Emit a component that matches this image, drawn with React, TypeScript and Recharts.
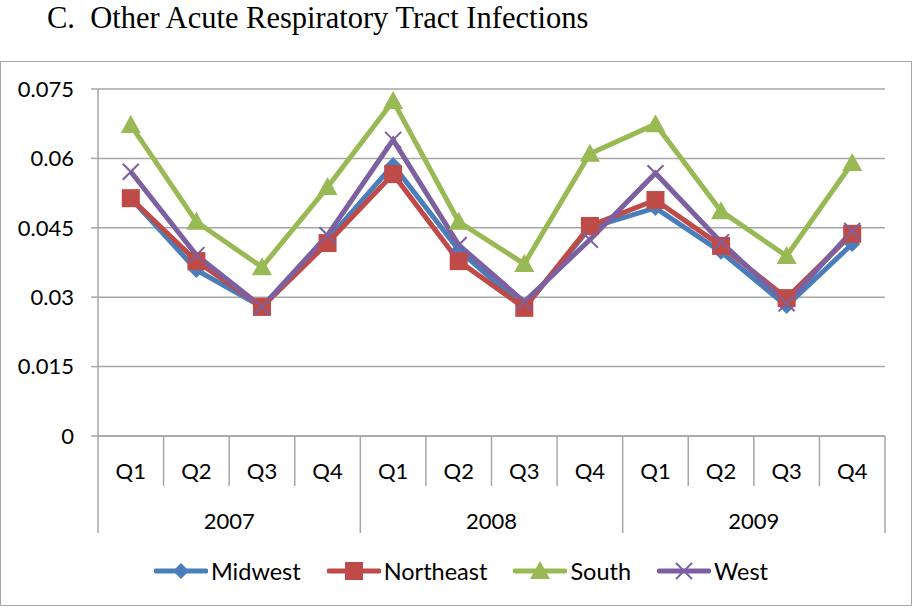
import { LineChart, Line, XAxis, YAxis, CartesianGrid, Legend } from 'recharts';

const quarters = ['Q1', 'Q2', 'Q3', 'Q4', 'Q1', 'Q2', 'Q3', 'Q4', 'Q1', 'Q2', 'Q3', 'Q4'];
const years = ['2007', '2007', '2007', '2007', '2008', '2008', '2008', '2008', '2009', '2009', '2009', '2009'];

const midwest = [0.0514, 0.0359, 0.0279, 0.0424, 0.0586, 0.0402, 0.0277, 0.045, 0.0493, 0.0398, 0.0281, 0.0415];
const northeast = [0.0514, 0.0378, 0.0279, 0.0417, 0.0566, 0.0378, 0.0277, 0.0454, 0.051, 0.0411, 0.0298, 0.0437];
const south = [0.0672, 0.0463, 0.0365, 0.0538, 0.0724, 0.0463, 0.0372, 0.061, 0.0674, 0.0486, 0.0389, 0.059];
const west = [0.0571, 0.0391, 0.0279, 0.0434, 0.064, 0.0413, 0.029, 0.0424, 0.0568, 0.0419, 0.0287, 0.0443];

const yTicks = [0, 0.015, 0.03, 0.045, 0.06, 0.075];

const data = quarters.map((q, i) => ({
  key: `${years[i]}-${q}`,
  quarter: q,
  year: years[i],
  Midwest: midwest[i],
  Northeast: northeast[i],
  South: south[i],
  West: west[i],
}));

const CHART_W = 912;
const CHART_H = 545;
const MARGIN = { top: 27, right: 28, left: 0, bottom: 11 };
const Y_W = 97;
const PLOT_W = CHART_W - MARGIN.left - MARGIN.right - Y_W;
const BAND = PLOT_W / quarters.length;

const GRID = '#a6a6a6';
const FONT = 'Lato, sans-serif';

const colors = {
  Midwest: '#4a7ebb',
  Northeast: '#be4b48',
  South: '#98b954',
  West: '#7d60a0',
};

function Marker({ name, cx, cy }: { name: string; cx: number; cy: number }) {
  const c = colors[name as keyof typeof colors];
  if (name === 'Midwest') {
    const s = 8;
    return <polygon points={`${cx},${cy - s} ${cx + s},${cy} ${cx},${cy + s} ${cx - s},${cy}`} fill={c} />;
  }
  if (name === 'Northeast') {
    const s = 9;
    return <rect x={cx - s} y={cy - s} width={s * 2} height={s * 2} fill={c} />;
  }
  if (name === 'South') {
    const s = 10;
    return <polygon points={`${cx},${cy - s} ${cx + s},${cy + s * 0.8} ${cx - s},${cy + s * 0.8}`} fill={c} />;
  }
  const s = 8;
  return (
    <g stroke={c} strokeWidth={2}>
      <line x1={cx - s} y1={cy - s} x2={cx + s} y2={cy + s} />
      <line x1={cx - s} y1={cy + s} x2={cx + s} y2={cy - s} />
    </g>
  );
}

const makeDot = (name: string) => (props: any) => {
  const { cx, cy, index } = props;
  if (cx == null || cy == null) return <g key={`${name}-${index}`} />;
  return (
    <g key={`${name}-${index}`}>
      <Marker name={name} cx={cx} cy={cy} />
    </g>
  );
};

function QuarterTick(props: any) {
  const { x, y, payload } = props;
  const i = payload.index;
  const left = x - BAND / 2;
  const right = x + BAND / 2;
  const startYear = i % 4 === 0;
  return (
    <g>
      <line x1={left} y1={y} x2={left} y2={y + (startYear ? 97 : 50)} stroke={GRID} strokeWidth={1.5} />
      {i === quarters.length - 1 && (
        <line x1={right} y1={y} x2={right} y2={y + 97} stroke={GRID} strokeWidth={1.5} />
      )}
      <text x={x} y={y + 34} textAnchor="middle" dominantBaseline="central" fontFamily={FONT} fontSize={22} fill="#000">
        {quarters[i]}
      </text>
      {i % 4 === 1 && (
        <text x={right} y={y + 84} textAnchor="middle" dominantBaseline="central" fontFamily={FONT} fontSize={22} fill="#000">
          {years[i]}
        </text>
      )}
    </g>
  );
}

const seriesNames = ['Midwest', 'Northeast', 'South', 'West'];

function LegendContent() {
  return (
    <div style={{ display: 'flex', justifyContent: 'center', alignItems: 'center', height: 50, paddingLeft: 34, fontFamily: FONT, fontSize: 23.5 }}>
      {seriesNames.map((n) => (
        <div key={n} style={{ display: 'flex', alignItems: 'center', marginRight: 26 }}>
          <svg width={54} height={24}>
            <line x1={2} y1={12} x2={52} y2={12} stroke={colors[n as keyof typeof colors]} strokeWidth={5} strokeLinecap="round" />
            <Marker name={n} cx={27} cy={12} />
          </svg>
          <span style={{ marginLeft: 3, color: '#000' }}>{n}</span>
        </div>
      ))}
    </div>
  );
}

export default function App() {
  return (
    <div style={{ position: 'absolute', left: 0, top: 0, width: 915, height: 610, background: '#fff' }}>
      <div
        style={{
          position: 'absolute',
          left: 47,
          top: 1,
          fontFamily: '"Liberation Serif", "Times New Roman", serif',
          fontSize: 30.5,
          lineHeight: '34px',
          whiteSpace: 'pre',
          color: '#000',
        }}
      >
        {'C.  Other Acute Respiratory Tract Infections'}
      </div>
      <div
        style={{
          position: 'absolute',
          left: 0,
          top: 61,
          width: CHART_W,
          height: CHART_H,
          border: `1.5px solid ${GRID}`,
          boxSizing: 'border-box',
        }}
      />
      <div style={{ position: 'absolute', left: 1, top: 62 }}>
        <LineChart width={CHART_W} height={CHART_H} data={data} margin={MARGIN}>
          <CartesianGrid vertical={false} stroke={GRID} strokeWidth={1.5} />
          <XAxis
            dataKey="key"
            interval={0}
            padding={{ left: BAND / 2, right: BAND / 2 }}
            axisLine={{ stroke: GRID, strokeWidth: 1.5 }}
            tickLine={false}
            tickSize={0}
            tickMargin={0}
            height={110}
            tick={<QuarterTick />}
          />
          <YAxis
            width={Y_W}
            domain={[0, 0.075]}
            ticks={yTicks}
            interval={0}
            axisLine={{ stroke: GRID, strokeWidth: 1.5 }}
            tickLine={{ stroke: GRID, strokeWidth: 1.5 }}
            tickSize={7}
            tickMargin={17}
            tick={{ fontFamily: FONT, fontSize: 22, fill: '#000' }}
            tickFormatter={(v: number) => String(v)}
          />
          <Legend verticalAlign="bottom" height={50} wrapperStyle={{ left: 0, width: CHART_W }} content={<LegendContent />} />
          {seriesNames.map((n) => (
            <Line
              key={n}
              type="linear"
              dataKey={n}
              stroke={colors[n as keyof typeof colors]}
              strokeWidth={5}
              dot={makeDot(n)}
              activeDot={false}
              isAnimationActive={false}
            />
          ))}
        </LineChart>
      </div>
    </div>
  );
}
